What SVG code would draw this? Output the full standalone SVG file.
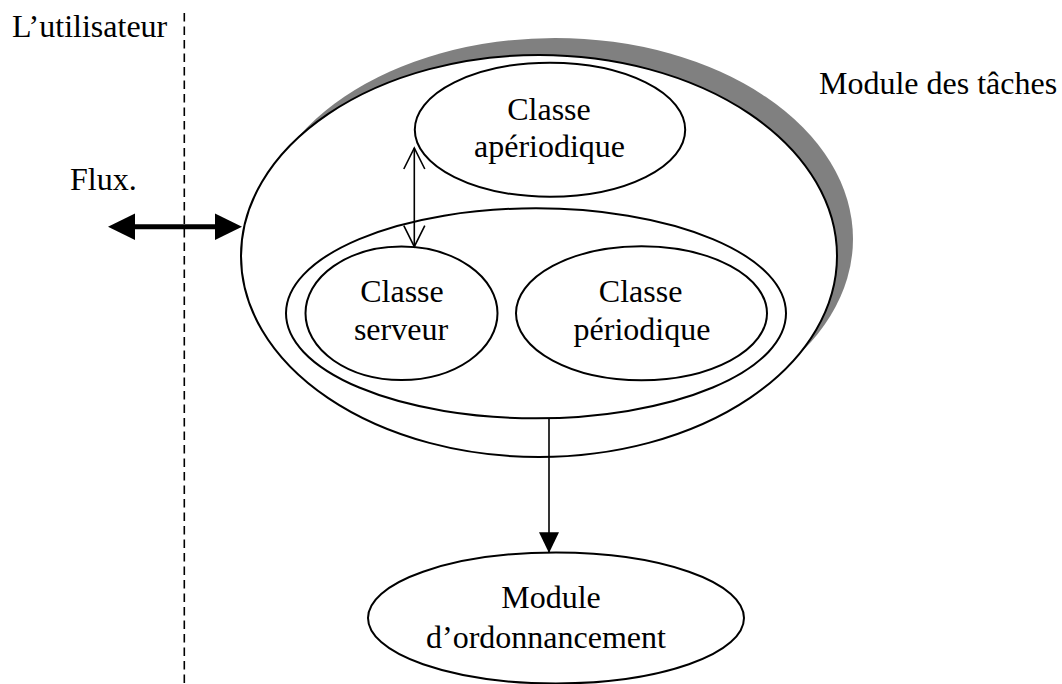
<svg xmlns="http://www.w3.org/2000/svg" width="1062" height="684" viewBox="0 0 1062 684">
  <style>
    .shape { fill: #ffffff; stroke: #000000; stroke-width: 2; }
    .label { font-family: "Liberation Serif", "Times New Roman", serif; font-size: 32px; fill: #000000; }
    .mid { text-anchor: middle; }
    .link { fill: none; stroke: #000000; stroke-width: 1.6; }
  </style>
  <defs>
    <!-- filled head for the bold two-way flow arrow (base sits on the line end) -->
    <marker id="headBold" markerUnits="userSpaceOnUse" markerWidth="28" markerHeight="28"
            refX="0" refY="13.3" orient="auto-start-reverse" overflow="visible">
      <path d="M0,0 L27,13.3 L0,26.6 Z" fill="#000000"/>
    </marker>
    <!-- open V head -->
    <marker id="headOpen" markerUnits="userSpaceOnUse" markerWidth="24" markerHeight="24"
            refX="0" refY="0" orient="auto-start-reverse" overflow="visible">
      <path d="M-21,-10.5 L0,0 L-21,10.5" fill="none" stroke="#000000" stroke-width="1.6"/>
    </marker>
    <!-- small filled head -->
    <marker id="headFill" markerUnits="userSpaceOnUse" markerWidth="24" markerHeight="24"
            refX="0" refY="0" orient="auto" overflow="visible">
      <path d="M0,0 L-20.7,-10 L-20.7,10 Z" fill="#000000"/>
    </marker>
  </defs>

  <rect x="0" y="0" width="1062" height="684" fill="#ffffff"/>

  <!-- boundary between the user side and the system -->
  <g id="user-boundary">
    <line x1="184.3" y1="13" x2="184.3" y2="684" stroke="#000000" stroke-width="1.6" stroke-dasharray="8.5 5"/>
    <text class="label" x="12" y="36.7">L’utilisateur</text>
    <text class="label" x="70" y="190">Flux.</text>
  </g>

  <!-- task module: shadowed outer ellipse -->
  <g id="module-taches">
    <ellipse cx="555" cy="239" rx="298" ry="201" fill="#808080"/>
    <ellipse class="shape" cx="539" cy="256" rx="298" ry="201"/>
    <text class="label" x="819" y="94">Module des tâches</text>
  </g>

  <g id="classe-aperiodique">
    <ellipse class="shape" cx="550" cy="129.7" rx="135.2" ry="67"/>
    <text class="label mid" x="549" y="120">Classe</text>
    <text class="label mid" x="549.5" y="157">apériodique</text>
  </g>

  <g id="groupe-classes">
    <ellipse class="shape" cx="536" cy="313.3" rx="250" ry="105"/>
  </g>

  <g id="classe-serveur">
    <ellipse class="shape" cx="401.5" cy="313.3" rx="96" ry="66.7"/>
    <text class="label mid" x="402" y="301.7">Classe</text>
    <text class="label mid" x="401" y="340">serveur</text>
  </g>

  <g id="classe-periodique">
    <ellipse class="shape" cx="641.5" cy="313.3" rx="125.5" ry="67"/>
    <text class="label mid" x="640.6" y="301.7">Classe</text>
    <text class="label mid" x="642" y="340">périodique</text>
  </g>

  <g id="module-ordonnancement">
    <ellipse class="shape" cx="556" cy="618" rx="188" ry="65.5"/>
    <text class="label mid" x="551" y="608">Module</text>
    <text class="label mid" x="546" y="648">d’ordonnancement</text>
  </g>

  <g id="connectors">
    <!-- flow between user and task module -->
    <line x1="135" y1="226.7" x2="215" y2="226.7" stroke="#000000" stroke-width="5"
          marker-start="url(#headBold)" marker-end="url(#headBold)"/>
    <!-- aperiodic class <-> server class -->
    <line class="link" x1="414.3" y1="148" x2="414.3" y2="246.7"
          marker-start="url(#headOpen)" marker-end="url(#headOpen)"/>
    <!-- task module -> scheduling module -->
    <line class="link" x1="549" y1="418.3" x2="549" y2="553"
          marker-end="url(#headFill)"/>
  </g>
</svg>
